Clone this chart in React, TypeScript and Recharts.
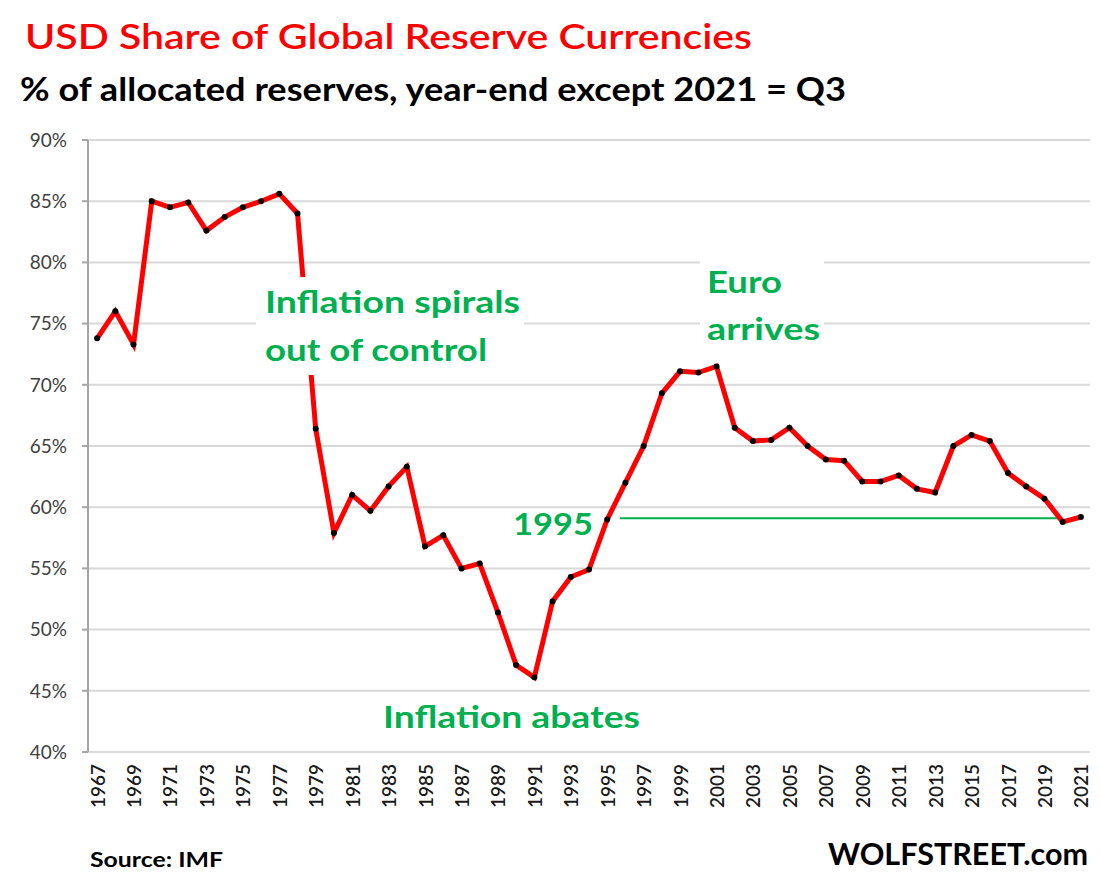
import React from "react";
import {
	LineChart,
	Line,
	XAxis,
	YAxis,
	CartesianGrid,
	ReferenceLine,
} from "recharts";

const years = [
	1967, 1968, 1969, 1970, 1971, 1972, 1973, 1974, 1975, 1976, 1977, 1978,
	1979, 1980, 1981, 1982, 1983, 1984, 1985, 1986, 1987, 1988, 1989, 1990,
	1991, 1992, 1993, 1994, 1995, 1996, 1997, 1998, 1999, 2000, 2001, 2002,
	2003, 2004, 2005, 2006, 2007, 2008, 2009, 2010, 2011, 2012, 2013, 2014,
	2015, 2016, 2017, 2018, 2019, 2020, 2021,
];

// USD share of allocated reserves, %
const usdShare = [
	73.8, 76.0, 73.3, 85.0, 84.5, 84.9, 82.6, 83.7, 84.5, 85.0, 85.6, 84.0,
	66.4, 57.9, 61.0, 59.7, 61.7, 63.3, 56.8, 57.7, 55.0, 55.4, 51.4, 47.1,
	46.1, 52.3, 54.3, 54.9, 59.0, 62.0, 65.0, 69.3, 71.1, 71.0, 71.5, 66.5,
	65.4, 65.5, 66.5, 65.0, 63.9, 63.8, 62.1, 62.1, 62.6, 61.5, 61.2, 65.0,
	65.9, 65.4, 62.8, 61.7, 60.7, 58.8, 59.2,
];

const yTicks = [40, 45, 50, 55, 60, 65, 70, 75, 80, 85, 90];
const xLabelYears = [
	1967, 1969, 1971, 1973, 1975, 1977, 1979, 1981, 1983, 1985, 1987, 1989,
	1991, 1993, 1995, 1997, 1999, 2001, 2003, 2005, 2007, 2009, 2011, 2013,
	2015, 2017, 2019, 2021,
];
// category boundaries for the small tick marks
const xBoundaries = [1966.5, ...years.map((y) => y + 0.5)];

// 1995 level carried forward
const level1995 = [
	{ x: 1995.7, y: 59.1 },
	{ x: 2019.9, y: 59.1 },
];

const data = years.map((year, i) => ({ year, share: usdShare[i] }));

const GREEN = "#00b050";
const FONT = "Lato, 'Open Sans', sans-serif";

const YearTick = (props: any) => {
	const { x, y, payload } = props;
	return (
		<text
			transform={`translate(${x},${y + 4}) rotate(-90)`}
			textAnchor="end"
			dominantBaseline="central"
			fontFamily={FONT}
			fontSize={19}
			fontWeight={600}
			fill="#1a1a1a"
		>
			{payload.value}
		</text>
	);
};

export default function App() {
	return (
		<div
			style={{
				position: "absolute",
				left: 0,
				top: 0,
				width: 1100,
				height: 887,
				background: "#fff",
				overflow: "hidden",
			}}
		>
			<LineChart
				width={1100}
				height={887}
				data={data}
				margin={{ top: 140, right: 10, left: 0, bottom: 55 }}
			>
				<CartesianGrid
					vertical={false}
					stroke="#d9d9d9"
					strokeWidth={2}
				/>
				<XAxis
					xAxisId="bounds"
					dataKey="year"
					type="number"
					domain={[1966.5, 2021.5]}
					ticks={xBoundaries}
					interval={0}
					tick={false}
					height={0}
					tickSize={6}
					tickLine={{ stroke: "#a6a6a6", strokeWidth: 2 }}
					axisLine={{ stroke: "#a6a6a6", strokeWidth: 2 }}
				/>
				<XAxis
					xAxisId="main"
					dataKey="year"
					type="number"
					domain={[1966.5, 2021.5]}
					ticks={xLabelYears}
					interval={0}
					height={80}
					tickLine={false}
					axisLine={false}
					tick={<YearTick />}
				/>
				<YAxis
					domain={[40, 90]}
					ticks={yTicks}
					interval={0}
					width={88}
					tickSize={6}
					tickMargin={15}
					tickFormatter={(v) => `${v}%`}
					tick={{ fill: "#404040", fontSize: 19, fontFamily: FONT }}
					tickLine={{ stroke: "#a6a6a6", strokeWidth: 2 }}
					axisLine={{ stroke: "#a6a6a6", strokeWidth: 2 }}
				/>
				<ReferenceLine
					xAxisId="main"
					segment={level1995}
					stroke={GREEN}
					strokeWidth={2}
				/>
				<Line
					xAxisId="main"
					type="linear"
					dataKey="share"
					stroke="#ff0000"
					strokeWidth={5}
					dot={{ r: 3, fill: "#000", stroke: "#000", strokeWidth: 0 }}
					activeDot={false}
					isAnimationActive={false}
				/>
			</LineChart>

			<svg
				width={1100}
				height={887}
				style={{ position: "absolute", left: 0, top: 0, pointerEvents: "none" }}
				fontFamily={FONT}
			>
				<text
					x={25}
					y={49}
					fontSize={34}
					fontWeight={600}
					fill="#ff0000"
					textLength={727}
					lengthAdjust="spacingAndGlyphs"
				>
					USD Share of Global  Reserve Currencies
				</text>
				<text
					x={20}
					y={101}
					fontSize={32}
					fontWeight={700}
					fill="#000"
					textLength={826}
					lengthAdjust="spacingAndGlyphs"
				>
					% of allocated reserves, year-end except 2021 = Q3
				</text>

				<rect x={256} y={277} width={268} height={98} fill="#fff" />
				<text
					x={265}
					y={313}
					fontSize={31}
					fontWeight={700}
					fill={GREEN}
					textLength={255}
					lengthAdjust="spacingAndGlyphs"
				>
					Inflation spirals
				</text>
				<text
					x={265}
					y={361}
					fontSize={31}
					fontWeight={700}
					fill={GREEN}
					textLength={222}
					lengthAdjust="spacingAndGlyphs"
				>
					out of control
				</text>

				<rect x={700} y={255} width={124} height={95} fill="#fff" />
				<text
					x={707}
					y={293}
					fontSize={31}
					fontWeight={700}
					fill={GREEN}
					textLength={75}
					lengthAdjust="spacingAndGlyphs"
				>
					Euro
				</text>
				<text
					x={707}
					y={340}
					fontSize={31}
					fontWeight={700}
					fill={GREEN}
					textLength={113}
					lengthAdjust="spacingAndGlyphs"
				>
					arrives
				</text>

				<text
					x={513}
					y={535}
					fontSize={31}
					fontWeight={700}
					fill={GREEN}
					textLength={80}
					lengthAdjust="spacingAndGlyphs"
				>
					1995
				</text>

				<text
					x={383}
					y={728}
					fontSize={31}
					fontWeight={700}
					fill={GREEN}
					textLength={257}
					lengthAdjust="spacingAndGlyphs"
				>
					Inflation abates
				</text>

				<text
					x={90}
					y={867}
					fontSize={20}
					fontWeight={700}
					fill="#000"
					textLength={133}
					lengthAdjust="spacingAndGlyphs"
				>
					Source: IMF
				</text>
				<text
					x={1088}
					y={865}
					fontSize={30}
					fontWeight={700}
					fill="#000"
					textAnchor="end"
					textLength={260}
					lengthAdjust="spacingAndGlyphs"
				>
					WOLFSTREET.com
				</text>
			</svg>
		</div>
	);
}
